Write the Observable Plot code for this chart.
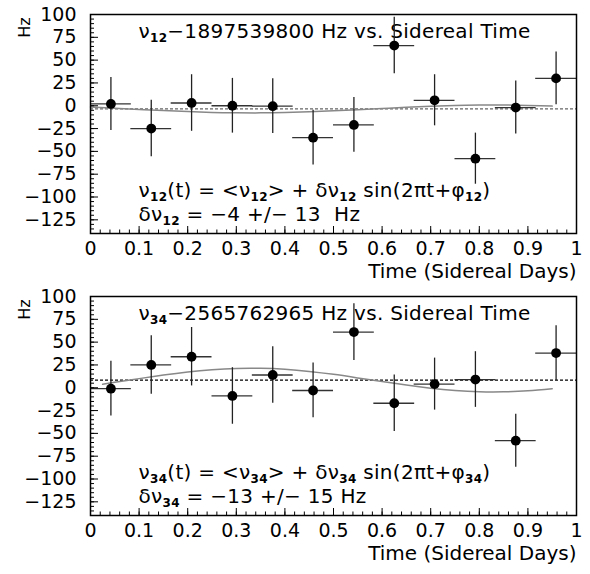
<!DOCTYPE html>
<html>
<head>
<meta charset="utf-8">
<script src="https://cdn.jsdelivr.net/npm/d3@7"></script>
<script src="https://cdn.jsdelivr.net/npm/@observablehq/plot@0.6"></script>
<style>
  html, body { margin: 0; padding: 0; background: #fff; }
  svg { display: block; }
</style>
</head>
<body>
<div id="chart"></div>
<script>
// ---- data ----
const binCenters = [0.042, 0.125, 0.208, 0.292, 0.375, 0.458, 0.542, 0.625, 0.708, 0.792, 0.875, 0.958];
const binHalfWidth = [0.042, 0.042, 0.042, 0.042, 0.042, 0.042, 0.042, 0.042, 0.042, 0.042, 0.042, 0.042];

const nu12 = [2, -25, 3, 0, -0.5, -35, -21, 66, 6, -58, -2, 30];
const nu12Err = [29, 31, 31, 30, 30, 30, 30, 31, 28, 28, 29, 29];
const nu12Mean = -3.5;
const curve12T = [0, 0.05, 0.1, 0.15, 0.2, 0.25, 0.3, 0.35, 0.4, 0.45, 0.5, 0.55, 0.6, 0.65, 0.7, 0.75, 0.8, 0.85, 0.9, 0.95];
const curve12 = [-1.4, -2.7, -4.0, -5.3, -6.4, -7.3, -7.7, -7.8, -7.4, -6.6, -5.6, -4.3, -3.0, -1.7, -0.6, 0.3, 0.7, 0.8, 0.4, -0.4];

const nu34 = [-1, 25, 34, -9, 14, -3, 61, -17, 4, 9, -58, 38];
const nu34Err = [30, 32, 32, 31, 31, 30, 31, 31, 28.5, 30.5, 29, 30];
const nu34Mean = 8.4;
const curve34T = [0.025, 0.05, 0.1, 0.15, 0.2, 0.25, 0.3, 0.35, 0.4, 0.45, 0.5, 0.55, 0.6, 0.65, 0.7, 0.75, 0.8, 0.85, 0.9, 0.95];
const curve34 = [3.8, 6.0, 10.0, 13.9, 17.3, 19.8, 21.2, 21.3, 20.2, 17.9, 14.7, 10.8, 6.8, 2.9, -0.5, -3.0, -4.4, -4.5, -3.4, -1.1];

const xTicks = [0, 0.1, 0.2, 0.3, 0.4, 0.5, 0.6, 0.7, 0.8, 0.9, 1];
const xTickLabels = ["0", "0.1", "0.2", "0.3", "0.4", "0.5", "0.6", "0.7", "0.8", "0.9", "1"];
const yTicks = [-125, -100, -75, -50, -25, 0, 25, 50, 75, 100];
const yTickLabels = ["−125", "−100", "−75", "−50", "−25", "0", "25", "50", "75", "100"];
const yDomain = [-140, 100];

const NB = "\u00a0";
// "_{..}" marks a bold subscript, turned into a <tspan> after rendering
const panels = [
  {
    values: nu12, errs: nu12Err, mean: nu12Mean, curveT: curve12T, curve: curve12,
    meanColor: "#666",
    title: "ν_{12}−1897539800 Hz vs. Sidereal Time",
    formula: "ν_{12}(t) = <ν_{12}> + δν_{12} sin(2πt+φ_{12})",
    result: "δν_{12} = −4 +/− 13" + NB + NB + "Hz"
  },
  {
    values: nu34, errs: nu34Err, mean: nu34Mean, curveT: curve34T, curve: curve34,
    meanColor: "#000",
    title: "ν_{34}−2565762965 Hz vs. Sidereal Time",
    formula: "ν_{34}(t) = <ν_{34}> + δν_{34} sin(2πt+φ_{34})",
    result: "δν_{34} = −13 +/− 15 Hz"
  }
];

// ---- layout ----
const W = 590, H = 282, ML = 90, MR = 14, MT = 14, MB = 49;
const FW = W - ML - MR, FH = H - MT - MB;
const FONT = "DejaVu Sans, Liberation Sans, sans-serif";

function panel(p) {
  const pts = binCenters.map((x, i) => ({x, hw: binHalfWidth[i], y: p.values[i], e: p.errs[i]}));
  const cv = p.curveT.map((t, i) => ({t, v: p.curve[i]}));
  const xMinor = d3.range(0, 1.0001, 0.02);
  const yMinor = d3.range(-140, 100.001, 5);
  return Plot.plot({
    width: W, height: H,
    marginLeft: ML, marginRight: MR, marginTop: MT, marginBottom: MB,
    style: {fontFamily: FONT, fontSize: "19px", color: "#000", background: "#fff"},
    x: {domain: [0, 1], axis: null},
    y: {domain: yDomain, axis: null},
    marks: [
      Plot.ruleY([p.mean], {stroke: p.meanColor, strokeWidth: 1.3, strokeDasharray: "3,2"}),
      Plot.line(cv, {x: "t", y: "v", stroke: "#888", strokeWidth: 1.5, curve: "natural"}),
      Plot.text([p.title], {frameAnchor: "top-left", textAnchor: "start", lineAnchor: "middle", dx: 48, dy: 17, fontSize: 20}),
      Plot.text([p.formula], {frameAnchor: "bottom-left", textAnchor: "start", lineAnchor: "middle", dx: 48, dy: -43, fontSize: 20}),
      Plot.text([p.result], {frameAnchor: "bottom-left", textAnchor: "start", lineAnchor: "middle", dx: 48, dy: -19, fontSize: 20}),
      Plot.ruleX(pts, {x: "x", y1: d => d.y - d.e, y2: d => d.y + d.e, stroke: "#222", strokeWidth: 1.3}),
      Plot.ruleY(pts, {y: "y", x1: d => d.x - d.hw, x2: d => d.x + d.hw, stroke: "#333", strokeWidth: 1.3}),
      Plot.dot(pts, {x: "x", y: "y", r: 4.9, fill: "#000", stroke: "none"}),
      // inward ticks (ROOT style)
      Plot.tickX(xTicks, {x: d => d, insetTop: FH - 7, stroke: "#000", strokeWidth: 1}),
      Plot.tickX(xMinor, {x: d => d, insetTop: FH - 3.5, stroke: "#000", strokeWidth: 1}),
      Plot.tickY(yTicks, {y: d => d, insetRight: FW - 8, stroke: "#000", strokeWidth: 1}),
      Plot.tickY(yMinor, {y: d => d, insetRight: FW - 4, stroke: "#000", strokeWidth: 1}),
      Plot.frame({stroke: "#000", strokeWidth: 1.5}),
      // tick labels
      Plot.text(xTicks, {x: d => d, text: (d, i) => xTickLabels[i], frameAnchor: "bottom", lineAnchor: "top", dy: 8, fontSize: 19}),
      Plot.text(yTicks, {y: d => d, text: (d, i) => yTickLabels[i], frameAnchor: "left", textAnchor: "end", lineAnchor: "middle", dx: -14, fontSize: 19}),
      Plot.text(["Hz"], {frameAnchor: "top-left", rotate: -90, textAnchor: "middle", lineAnchor: "middle", dx: -66, dy: 13, fontSize: 16}),
      Plot.text(["Time (Sidereal Days)"], {frameAnchor: "bottom-right", textAnchor: "end", lineAnchor: "middle", dy: 38, fontSize: 20})
    ]
  });
}

// turn "_{nn}" into bold lowered subscripts
function applySubscripts(svg) {
  d3.select(svg).selectAll("text").each(function () {
    const s = this.textContent;
    if (!s.includes("_{")) return;
    const parts = s.split(/_\{([^}]*)\}/);
    this.textContent = "";
    d3.select(this).style("letter-spacing", "0.3px");
    let lowered = false;
    parts.forEach((seg, i) => {
      if (seg === "") return;
      const ts = d3.select(this).append("tspan").text(seg);
      if (i % 2 === 1) {
        ts.attr("font-size", 12).attr("font-weight", "bold").attr("dy", lowered ? null : 4);
        lowered = true;
      } else if (lowered) {
        ts.attr("dy", -4);
        lowered = false;
      }
    });
  });
}

const root = document.getElementById("chart");
for (const p of panels) {
  const svg = panel(p);
  applySubscripts(svg);
  root.appendChild(svg);
}
</script>
</body>
</html>
